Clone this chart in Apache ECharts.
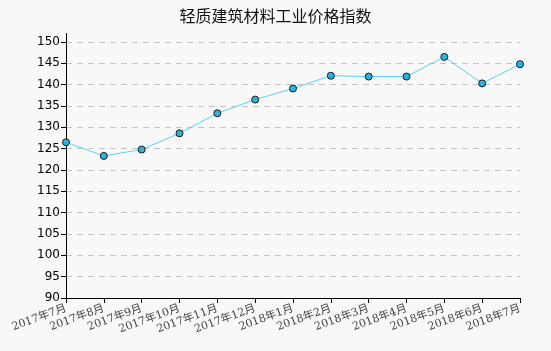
<!DOCTYPE html>
<html>
<head>
<meta charset="utf-8">
<script src="https://cdn.jsdelivr.net/npm/echarts@6/dist/echarts.min.js"></script>
<style>
  html, body { margin: 0; padding: 0; background: #f8f8f8; }
  #chart { width: 551px; height: 351px; }
</style>
</head>
<body>
<div id="chart"></div>
<script>
const titleText = '轻质建筑材料工业价格指数';
const months = [
  '2017年7月', '2017年8月', '2017年9月', '2017年10月', '2017年11月', '2017年12月',
  '2018年1月', '2018年2月', '2018年3月', '2018年4月', '2018年5月', '2018年6月', '2018年7月'
];
const priceIndex = [126.5, 123.3, 124.8, 128.6, 133.3, 136.5, 139.1, 142.1, 141.9, 141.9, 146.5, 140.3, 144.8];
const yMin = 90;
const yMax = 150;
const yStep = 5;

const chart = echarts.init(document.getElementById('chart'));

chart.setOption({
  backgroundColor: '#f8f8f8',
  animation: false,
  title: {
    text: titleText,
    left: 'center',
    top: 3,
    textStyle: {
      fontFamily: 'Noto Sans CJK SC',
      fontSize: 16,
      fontWeight: 'normal',
      color: '#111'
    }
  },
  grid: {
    left: 66,
    right: 31,
    top: 42,
    bottom: 53
  },
  xAxis: {
    type: 'category',
    data: months,
    boundaryGap: false,
    axisLine: { lineStyle: { color: '#000', width: 1 } },
    axisTick: { show: true, length: 5, lineStyle: { color: '#000' } },
    axisLabel: {
      rotate: 20,
      interval: 0,
      margin: 10,
      color: '#444',
      fontFamily: 'DejaVu Serif, Noto Sans CJK SC',
      fontSize: 11
    },
    splitLine: { show: false }
  },
  yAxis: {
    type: 'value',
    min: yMin,
    max: yMax,
    interval: yStep,
    axisLine: { show: true, lineStyle: { color: '#000', width: 1 } },
    axisTick: { show: true, length: 5, lineStyle: { color: '#000' } },
    axisLabel: {
      color: '#000',
      fontFamily: 'DejaVu Sans',
      fontSize: 12,
      margin: 6
    },
    splitLine: {
      show: true,
      lineStyle: { color: '#c4c4c4', type: [6, 5] }
    }
  },
  graphic: [{
    type: 'line',
    shape: { x1: 66.5, y1: 33, x2: 66.5, y2: 42 },
    style: { stroke: '#000', lineWidth: 1 },
    silent: true
  }],
  series: [{
    type: 'line',
    data: priceIndex,
    symbol: 'circle',
    symbolSize: 7,
    lineStyle: { color: '#5cd2f4', width: 1 },
    itemStyle: { color: '#27b4e4', borderColor: '#1a1a1a', borderWidth: 1 }
  }]
});
</script>
</body>
</html>
